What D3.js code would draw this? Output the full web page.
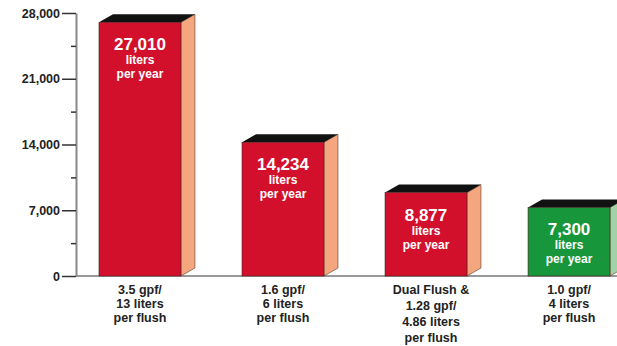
<!DOCTYPE html>
<html><head><meta charset="utf-8">
<script src="https://cdn.jsdelivr.net/npm/d3@7"></script>
<style>body{margin:0;background:#fff;overflow:hidden}svg{display:block}</style>
</head><body>
<svg id="c" width="617" height="346"></svg>
<script>
const categories = ["3.5 gpf/ 13 liters", "1.6 gpf/ 6 liters", "Dual Flush 1.28 gpf", "1.0 gpf/ 4 liters"];
const values = [27010, 14234, 8877, 7300];
const valueLabels = ["27,010", "14,234", "8,877", "7,300"];
const categoryLines = [
  ["3.5 gpf/", "13 liters", "per flush"],
  ["1.6 gpf/", "6 liters", "per flush"],
  ["Dual Flush &", "1.28 gpf/", "4.86 liters", "per flush"],
  ["1.0 gpf/", "4 liters", "per flush"]
];
const majorTicks = [0, 7000, 14000, 21000, 28000];
const minorTicks = [3500, 10500, 17500, 24500];
const highlight = [false, false, false, true];

const svg = d3.select("#c");
const font = "'Liberation Sans', Arial, Helvetica, sans-serif";
const y = d3.scaleLinear().domain([0, 28000]).range([276, 13]);
const x = d3.scaleBand().domain(categories).range([99, 610]).paddingInner(0.427).paddingOuter(0);
const dx = 14, dy = 8;

// baseline
svg.append("line").attr("x1", 76).attr("x2", 617).attr("y1", y(0)).attr("y2", y(0))
  .attr("stroke", "#777").attr("stroke-width", 1.5);

// axis
const ax = svg.append("g").attr("transform", "translate(76,0)")
  .call(d3.axisLeft(y).tickValues(majorTicks).tickSize(14).tickSizeOuter(0).tickFormat(d3.format(",")));
ax.select(".domain").attr("stroke", "#888").attr("stroke-width", 2);
ax.selectAll(".tick line").attr("stroke", "#333").attr("stroke-width", 1.5);
ax.selectAll(".tick text").attr("font-family", font).attr("font-weight", "bold")
  .attr("font-size", 12.5).attr("fill", "#222").attr("x", -16);
const axm = svg.append("g").attr("transform", "translate(76,0)")
  .call(d3.axisLeft(y).tickValues(minorTicks).tickSize(5).tickFormat(""));
axm.select(".domain").remove();
axm.selectAll(".tick line").attr("stroke", "#333").attr("stroke-width", 1.5);

const bars = svg.append("g").selectAll("g").data(categories).join("g");
bars.each(function(c, i) {
  const g = d3.select(this);
  const x0 = x(c), w = x.bandwidth(), yt = y(values[i]), yb = y(0);
  const front = highlight[i] ? "#17963c" : "#d3102c";
  const side = highlight[i] ? "#9fd3a6" : "#f4a67e";
  g.append("path").attr("d", `M${x0+w},${yt} L${x0+w+dx},${yt-dy} L${x0+w+dx},${yb-dy} L${x0+w},${yb} Z`)
    .attr("fill", side).attr("stroke", "#5a3a2a").attr("stroke-width", 0.6);
  g.append("path").attr("d", `M${x0},${yt} L${x0+dx},${yt-dy} L${x0+w+dx},${yt-dy} L${x0+w},${yt} Z`)
    .attr("fill", "#111");
  g.append("rect").attr("x", x0).attr("y", yt).attr("width", w).attr("height", yb - yt)
    .attr("fill", front).attr("stroke", "#4a1a1a").attr("stroke-width", 0.6);
  const cx = x0 + w / 2;
  g.append("text").attr("x", cx).attr("y", yt + 28).attr("text-anchor", "middle")
    .attr("font-family", font).attr("font-weight", "bold").attr("font-size", 17).attr("fill", "#fff")
    .text(valueLabels[i]);
  g.append("text").attr("x", cx).attr("y", yt + 42).attr("text-anchor", "middle")
    .attr("font-family", font).attr("font-weight", "bold").attr("font-size", 12).attr("fill", "#fff")
    .text("liters");
  g.append("text").attr("x", cx).attr("y", yt + 56).attr("text-anchor", "middle")
    .attr("font-family", font).attr("font-weight", "bold").attr("font-size", 12).attr("fill", "#fff")
    .text("per year");
  const lines = categoryLines[i];
  const sp = lines.length > 3 ? 16 : 14;
  lines.forEach((t, k) => {
    g.append("text").attr("x", cx + (lines.length > 3 ? 5 : 0)).attr("y", 294 + k * sp).attr("text-anchor", "middle")
      .attr("font-family", font).attr("font-weight", "bold").attr("font-size", 12.5).attr("fill", "#222")
      .text(t);
  });
});
</script>
</body></html>
